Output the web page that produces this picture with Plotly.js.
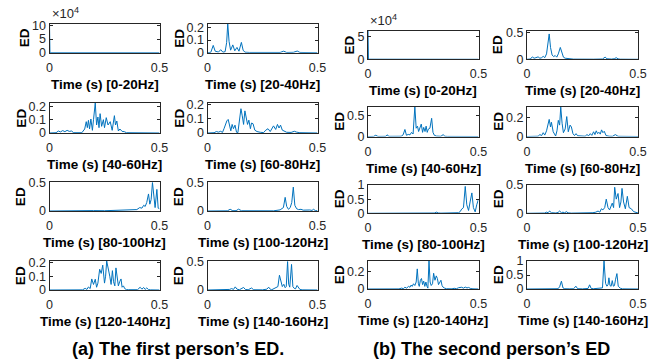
<!DOCTYPE html>
<html>
<head>
<meta charset="utf-8">
<script src="https://cdn.plot.ly/plotly-3.0.1.min.js"></script>
<style>
  html, body { margin: 0; padding: 0; background: #fff; }
  #chart { width: 661px; height: 363px; }
</style>
</head>
<body>
<div id="chart"></div>
<script>
// Frequency bands, one subplot each (row-major, two columns per person)
const bands = ['0-20Hz', '20-40Hz', '40-60Hz', '60-80Hz', '80-100Hz', '100-120Hz', '120-140Hz', '140-160Hz'];
const captions = ['(a) The first person\u2019s ED.', '(b) The second person\u2019s ED'];

// ---- First person: time (s) and energy distribution (ED) per band ----
const p1Time0 = [0, 0.002, 0.5];
const p1Ed0   = [107000, 300, 0];

const p1Time1 = [0, 0.015, 0.026, 0.035, 0.05, 0.06, 0.07, 0.08, 0.087, 0.092, 0.098, 0.105, 0.115, 0.124, 0.134, 0.143, 0.154, 0.162, 0.17, 0.19, 0.33, 0.346, 0.36, 0.39, 0.408, 0.42, 0.5];
const p1Ed1   = [0, 0.003, 0.058, 0.012, 0.005, 0.024, 0.004, 0.008, 0.08, 0.23, 0.09, 0.02, 0.062, 0.015, 0.042, 0.012, 0.082, 0.02, 0.004, 0.002, 0.002, 0.012, 0.002, 0.003, 0.013, 0.002, 0];

const p1Time2 = [0, 0.03, 0.04, 0.05, 0.06, 0.07, 0.08, 0.09, 0.1, 0.11, 0.147, 0.16, 0.167, 0.172, 0.177, 0.182, 0.188, 0.195, 0.2, 0.208, 0.214, 0.22, 0.225, 0.23, 0.237, 0.245, 0.25, 0.258, 0.266, 0.276, 0.285, 0.295, 0.3, 0.306, 0.313, 0.32, 0.33, 0.34, 0.35, 0.5];
const p1Ed2   = [0, 0.002, 0.015, 0.008, 0.018, 0.01, 0.02, 0.012, 0.015, 0.002, 0.002, 0.03, 0.085, 0.04, 0.095, 0.03, 0.105, 0.02, 0.1, 0.225, 0.06, 0.12, 0.04, 0.145, 0.05, 0.1, 0.04, 0.115, 0.06, 0.085, 0.02, 0.13, 0.06, 0.09, 0.015, 0.03, 0.012, 0.01, 0.002, 0];

const p1Time3 = [0, 0.03, 0.04, 0.05, 0.06, 0.068, 0.075, 0.082, 0.088, 0.094, 0.1, 0.106, 0.112, 0.118, 0.125, 0.132, 0.138, 0.145, 0.152, 0.158, 0.164, 0.17, 0.176, 0.182, 0.188, 0.195, 0.2, 0.207, 0.215, 0.225, 0.24, 0.255, 0.265, 0.275, 0.285, 0.295, 0.3, 0.31, 0.318, 0.325, 0.332, 0.34, 0.35, 0.36, 0.38, 0.395, 0.405, 0.42, 0.5];
const p1Ed3   = [0, 0.002, 0.01, 0.006, 0.012, 0.004, 0.03, 0.06, 0.085, 0.095, 0.04, 0.015, 0.06, 0.03, 0.055, 0.005, 0.002, 0.1, 0.17, 0.12, 0.06, 0.155, 0.1, 0.06, 0.09, 0.03, 0.07, 0.065, 0.02, 0.01, 0.005, 0.003, 0.02, 0.03, 0.01, 0.04, 0.05, 0.025, 0.06, 0.035, 0.055, 0.02, 0.01, 0.005, 0.004, 0.012, 0.006, 0.002, 0];

const p1Time4 = [0, 0.05, 0.1, 0.15, 0.2, 0.25, 0.3, 0.35, 0.38, 0.397, 0.41, 0.42, 0.428, 0.435, 0.442, 0.45, 0.456, 0.462, 0.468, 0.474, 0.48, 0.488, 0.494, 0.5];
const p1Ed4   = [0, 0.004, 0.006, 0.003, 0.007, 0.005, 0.008, 0.01, 0.012, 0.025, 0.06, 0.05, 0.1, 0.08, 0.15, 0.3, 0.12, 0.2, 0.5, 0.25, 0.06, 0.38, 0.05, 0.04];

const p1Time5 = [0, 0.09, 0.103, 0.115, 0.13, 0.141, 0.155, 0.2, 0.3, 0.33, 0.345, 0.353, 0.36, 0.368, 0.376, 0.383, 0.39, 0.397, 0.405, 0.414, 0.425, 0.435, 0.445, 0.455, 0.465, 0.475, 0.482, 0.49, 0.5];
const p1Ed5   = [0, 0.003, 0.03, 0.005, 0.006, 0.032, 0.004, 0.002, 0.003, 0.02, 0.06, 0.24, 0.08, 0.03, 0.06, 0.15, 0.42, 0.1, 0.04, 0.025, 0.03, 0.015, 0.02, 0.012, 0.018, 0.01, 0.03, 0.008, 0.005];

const p1Time6 = [0, 0.15, 0.162, 0.17, 0.177, 0.185, 0.192, 0.2, 0.208, 0.214, 0.22, 0.228, 0.235, 0.242, 0.25, 0.255, 0.26, 0.267, 0.274, 0.28, 0.286, 0.291, 0.297, 0.302, 0.307, 0.313, 0.319, 0.325, 0.33, 0.336, 0.342, 0.35, 0.36, 0.4, 0.412, 0.42, 0.428, 0.435, 0.442, 0.45, 0.46, 0.5];
const p1Ed6   = [0, 0.001, 0.012, 0.004, 0.022, 0.01, 0.08, 0.04, 0.078, 0.02, 0.05, 0.15, 0.12, 0.18, 0.05, 0.1, 0.21, 0.16, 0.1, 0.04, 0.14, 0.06, 0.03, 0.16, 0.08, 0.03, 0.06, 0.08, 0.02, 0.03, 0.01, 0.003, 0.002, 0.002, 0.02, 0.006, 0.018, 0.004, 0.015, 0.003, 0.001, 0];

const p1Time7 = [0, 0.09, 0.1, 0.11, 0.118, 0.126, 0.134, 0.145, 0.155, 0.164, 0.172, 0.185, 0.2, 0.21, 0.25, 0.27, 0.278, 0.285, 0.292, 0.3, 0.31, 0.32, 0.327, 0.333, 0.34, 0.347, 0.353, 0.358, 0.364, 0.369, 0.374, 0.382, 0.388, 0.394, 0.4, 0.407, 0.414, 0.42, 0.43, 0.5];
const p1Ed7   = [0, 0.002, 0.01, 0.025, 0.01, 0.055, 0.015, 0.005, 0.02, 0.045, 0.01, 0.004, 0.035, 0.004, 0.003, 0.015, 0.05, 0.015, 0.005, 0.02, 0.04, 0.06, 0.26, 0.14, 0.06, 0.1, 0.04, 0.06, 0.5, 0.1, 0.05, 0.45, 0.06, 0.03, 0.02, 0.08, 0.03, 0.01, 0.003, 0];

// ---- Second person ----
const p2Time0 = [0, 0.002, 0.5];
const p2Ed0   = [64000, 200, 0];

const p2Time1 = [0, 0.015, 0.024, 0.032, 0.04, 0.05, 0.058, 0.066, 0.073, 0.08, 0.088, 0.094, 0.1, 0.106, 0.113, 0.12, 0.127, 0.134, 0.141, 0.15, 0.157, 0.164, 0.172, 0.18, 0.19, 0.21, 0.3, 0.34, 0.352, 0.36, 0.38, 0.393, 0.402, 0.41, 0.42, 0.5];
const p2Ed1   = [0, 0.005, 0.045, 0.02, 0.03, 0.045, 0.02, 0.03, 0.055, 0.03, 0.1, 0.25, 0.47, 0.22, 0.08, 0.05, 0.07, 0.04, 0.1, 0.22, 0.12, 0.04, 0.02, 0.015, 0.005, 0.003, 0.002, 0.005, 0.04, 0.01, 0.004, 0.01, 0.03, 0.008, 0.002, 0];

const p2Time2 = [0, 0.025, 0.035, 0.045, 0.08, 0.086, 0.095, 0.15, 0.159, 0.167, 0.174, 0.182, 0.19, 0.197, 0.204, 0.212, 0.218, 0.224, 0.229, 0.235, 0.241, 0.247, 0.252, 0.258, 0.263, 0.268, 0.273, 0.28, 0.288, 0.294, 0.3, 0.31, 0.33, 0.34, 0.348, 0.36, 0.5];
const p2Ed2   = [0, 0.002, 0.03, 0.002, 0.004, 0.04, 0.004, 0.006, 0.04, 0.17, 0.03, 0.05, 0.04, 0.1, 0.06, 0.72, 0.2, 0.25, 0.12, 0.22, 0.3, 0.1, 0.22, 0.12, 0.25, 0.1, 0.18, 0.2, 0.44, 0.1, 0.03, 0.01, 0.005, 0.045, 0.005, 0.002, 0];

const p2Time3 = [0, 0.03, 0.04, 0.05, 0.058, 0.066, 0.073, 0.08, 0.088, 0.094, 0.1, 0.106, 0.11, 0.118, 0.129, 0.135, 0.141, 0.147, 0.152, 0.158, 0.164, 0.172, 0.179, 0.186, 0.194, 0.2, 0.207, 0.214, 0.221, 0.228, 0.24, 0.25, 0.262, 0.27, 0.278, 0.285, 0.292, 0.3, 0.306, 0.312, 0.318, 0.324, 0.33, 0.336, 0.342, 0.348, 0.356, 0.37, 0.385, 0.398, 0.41, 0.5];
const p2Ed3   = [0, 0.002, 0.006, 0.003, 0.02, 0.01, 0.04, 0.015, 0.06, 0.12, 0.18, 0.1, 0.15, 0.05, 0.005, 0.06, 0.17, 0.12, 0.31, 0.14, 0.04, 0.08, 0.21, 0.05, 0.12, 0.1, 0.03, 0.01, 0.03, 0.008, 0.004, 0.002, 0.003, 0.02, 0.008, 0.03, 0.012, 0.05, 0.02, 0.06, 0.03, 0.045, 0.025, 0.07, 0.04, 0.055, 0.01, 0.003, 0.002, 0.02, 0.002, 0];

const p2Time4 = [0, 0.05, 0.08, 0.1, 0.15, 0.19, 0.2, 0.25, 0.3, 0.31, 0.318, 0.33, 0.36, 0.39, 0.4, 0.41, 0.417, 0.424, 0.432, 0.44, 0.447, 0.455, 0.462, 0.47, 0.477, 0.485, 0.492, 0.5];
const p2Ed4   = [0, 0.005, 0.012, 0.004, 0.006, 0.015, 0.005, 0.004, 0.01, 0.04, 0.012, 0.006, 0.005, 0.01, 0.025, 0.02, 0.06, 0.15, 0.2, 0.95, 0.3, 0.1, 0.4, 0.72, 0.2, 0.05, 0.3, 0.5];

const p2Time5 = [0, 0.025, 0.035, 0.045, 0.08, 0.087, 0.095, 0.102, 0.11, 0.13, 0.14, 0.147, 0.155, 0.162, 0.17, 0.177, 0.185, 0.2, 0.28, 0.297, 0.31, 0.32, 0.328, 0.335, 0.342, 0.35, 0.357, 0.365, 0.372, 0.378, 0.384, 0.39, 0.395, 0.402, 0.41, 0.417, 0.423, 0.428, 0.435, 0.443, 0.452, 0.46, 0.47, 0.48, 0.49, 0.5];
const p2Ed5   = [0, 0.002, 0.01, 0.002, 0.004, 0.02, 0.01, 0.04, 0.01, 0.005, 0.015, 0.04, 0.01, 0.02, 0.008, 0.03, 0.008, 0.003, 0.002, 0.01, 0.02, 0.04, 0.02, 0.08, 0.06, 0.1, 0.25, 0.1, 0.06, 0.12, 0.18, 0.1, 0.46, 0.25, 0.35, 0.1, 0.2, 0.44, 0.2, 0.08, 0.3, 0.1, 0.08, 0.03, 0.02, 0.005];

const p2Time6 = [0, 0.14, 0.152, 0.16, 0.167, 0.175, 0.183, 0.19, 0.195, 0.2, 0.206, 0.212, 0.218, 0.223, 0.228, 0.232, 0.237, 0.242, 0.247, 0.252, 0.257, 0.262, 0.267, 0.271, 0.276, 0.281, 0.286, 0.292, 0.297, 0.303, 0.309, 0.314, 0.319, 0.324, 0.33, 0.335, 0.34, 0.347, 0.355, 0.38, 0.39, 0.4, 0.41, 0.424, 0.432, 0.44, 0.448, 0.455, 0.465, 0.475, 0.5];
const p2Ed6   = [0, 0.001, 0.01, 0.004, 0.02, 0.01, 0.03, 0.02, 0.045, 0.03, 0.06, 0.04, 0.08, 0.23, 0.06, 0.03, 0.1, 0.12, 0.05, 0.09, 0.03, 0.08, 0.03, 0.01, 0.32, 0.08, 0.04, 0.06, 0.18, 0.1, 0.15, 0.12, 0.05, 0.08, 0.1, 0.04, 0.02, 0.01, 0.003, 0.002, 0.008, 0.003, 0.015, 0.02, 0.01, 0.022, 0.012, 0.018, 0.005, 0.002, 0];

const p2Time7 = [0, 0.08, 0.087, 0.095, 0.12, 0.132, 0.14, 0.147, 0.155, 0.162, 0.17, 0.19, 0.21, 0.22, 0.228, 0.25, 0.268, 0.275, 0.282, 0.289, 0.3, 0.312, 0.32, 0.327, 0.335, 0.34, 0.347, 0.354, 0.36, 0.365, 0.369, 0.374, 0.379, 0.384, 0.389, 0.394, 0.399, 0.405, 0.411, 0.42, 0.43, 0.5];
const p2Ed7   = [0, 0.003, 0.012, 0.004, 0.006, 0.02, 0.01, 0.08, 0.28, 0.04, 0.01, 0.006, 0.008, 0.1, 0.01, 0.005, 0.008, 0.02, 0.15, 0.02, 0.01, 0.025, 0.02, 0.035, 0.03, 0.04, 1.0, 0.2, 0.1, 0.15, 0.4, 0.12, 0.1, 0.3, 0.1, 0.12, 0.35, 0.55, 0.1, 0.03, 0.005, 0];

// y-axis tick values and upper limits per band
const p1TickVals = [[0, 50000, 100000], [0, 0.1, 0.2], [0, 0.1, 0.2], [0, 0.1, 0.2], [0, 0.5], [0, 0.5], [0, 0.1, 0.2], [0, 0.5]];
const p1YMax     = [107000, 0.232, 0.225, 0.21, 0.51, 0.51, 0.21, 0.51];
const p2TickVals = [[0, 50000], [0, 0.5], [0, 0.5], [0, 0.2], [0, 0.5, 1], [0, 0.5], [0, 0.2], [0, 0.5, 1]];
const p2YMax     = [64000, 0.53, 0.72, 0.314, 1.0, 0.5, 0.32, 1.0];
// the 0-20Hz band is labelled in units of 10^4
const p1Exponent = [4, 0, 0, 0, 0, 0, 0, 0];
const p2Exponent = [4, 0, 0, 0, 0, 0, 0, 0];

const xTickVals = [0, 0.5];

const people = [
  { times: [p1Time0, p1Time1, p1Time2, p1Time3, p1Time4, p1Time5, p1Time6, p1Time7],
    eds:   [p1Ed0, p1Ed1, p1Ed2, p1Ed3, p1Ed4, p1Ed5, p1Ed6, p1Ed7],
    ticks: p1TickVals, ymax: p1YMax, exps: p1Exponent },
  { times: [p2Time0, p2Time1, p2Time2, p2Time3, p2Time4, p2Time5, p2Time6, p2Time7],
    eds:   [p2Ed0, p2Ed1, p2Ed2, p2Ed3, p2Ed4, p2Ed5, p2Ed6, p2Ed7],
    ticks: p2TickVals, ymax: p2YMax, exps: p2Exponent }
];

// ---- page geometry (pixels) ----
const W = 661, H = 363;
const FONT = 'Liberation Sans, Arial, Helvetica, sans-serif';
const INK = '#262626';
const LINE = '#0072BD';
const TICK_SIZE = 12.5;
const colPx = [[49.5, 159.5], [207.5, 317.5], [368, 478.5], [527, 638]];
const rowPx = [
  [[23.5, 52.7], [103, 133], [182, 211], [261, 290]],
  [[30.7, 59.3], [106.7, 136.5], [185, 213.3], [261, 289]]
];
const captionX = [177.5, 491.7];
const captionY = 349;

// approximate rendered width of a tick label
function labelWidth(s) {
  let w = 0;
  for (const c of s) w += (c === '.') ? 0.278 : 0.556;
  return w * TICK_SIZE;
}

const traces = [];
const layout = {
  width: W, height: H,
  margin: { l: 0, r: 0, t: 0, b: 0 },
  paper_bgcolor: '#fff', plot_bgcolor: '#fff',
  showlegend: false,
  font: { family: FONT, color: INK },
  annotations: []
};

people.forEach((person, p) => {
  bands.forEach((band, b) => {
    const n = p * 8 + b + 1;
    const col = colPx[p * 2 + (b % 2)];
    const row = rowPx[p][Math.floor(b / 2)];
    const xa = 'x' + n, ya = 'y' + n;
    const scale = Math.pow(10, person.exps[b]);
    const tickText = person.ticks[b].map(v => String(+(v / scale).toFixed(6)));

    traces.push({
      type: 'scatter', mode: 'lines',
      x: person.times[b], y: person.eds[b],
      xaxis: xa, yaxis: ya,
      line: { color: LINE, width: 1 },
      hoverinfo: 'skip'
    });

    const common = {
      showline: true, mirror: 'ticks', linecolor: INK, linewidth: 1,
      ticks: 'inside', ticklen: 3, tickcolor: INK, tickwidth: 1,
      showgrid: false, zeroline: false, fixedrange: true,
      tickfont: { family: FONT, size: TICK_SIZE, color: INK }
    };
    layout['xaxis' + n] = Object.assign({}, common, {
      domain: [col[0] / W, col[1] / W], anchor: ya,
      range: [0, 0.5], tickvals: xTickVals, ticktext: ['0', '0.5'],
      ticklabelstandoff: 3
    });
    layout['yaxis' + n] = Object.assign({}, common, {
      domain: [1 - row[1] / H, 1 - row[0] / H], anchor: xa,
      range: [0, person.ymax[b]], tickvals: person.ticks[b], ticktext: tickText
    });

    // x-axis title
    layout.annotations.push({
      xref: xa + ' domain', yref: ya + ' domain', x: 0.5, y: 0,
      xanchor: 'center', yanchor: 'middle', yshift: -31.5,
      text: '<b>Time (s) [' + band + ']</b>', showarrow: false,
      font: { family: FONT, size: 13.5, color: '#000' }
    });
    // y-axis title, set just left of the widest tick label
    const widest = Math.max(...tickText.map(labelWidth));
    layout.annotations.push({
      xref: xa + ' domain', yref: ya + ' domain', x: 0, y: 0.5,
      xanchor: 'center', yanchor: 'middle', xshift: -(widest + 11.5),
      textangle: -90,
      text: '<b>ED</b>', showarrow: false,
      font: { family: FONT, size: 13.5, color: '#000' }
    });
    // multiplier above scaled axes
    if (person.exps[b]) {
      layout.annotations.push({
        xref: xa + ' domain', yref: ya + ' domain', x: 0, y: 1,
        xanchor: 'left', yanchor: 'bottom', yshift: 1,
        text: '\u00d710<sup>' + person.exps[b] + '</sup>', showarrow: false,
        font: { family: FONT, size: 13, color: INK }
      });
    }
  });

  layout.annotations.push({
    xref: 'paper', yref: 'paper',
    x: captionX[p] / W, y: 1 - captionY / H,
    xanchor: 'center', yanchor: 'middle',
    text: '<b>' + captions[p] + '</b>', showarrow: false,
    font: { family: FONT, size: 18, color: '#000' }
  });
});

Plotly.newPlot('chart', traces, layout, { staticPlot: true, displayModeBar: false });
</script>
</body>
</html>
